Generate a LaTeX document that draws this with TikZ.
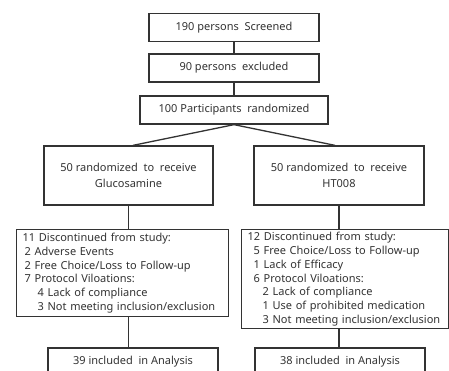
\documentclass[tikz,border=0pt]{standalone}
\usepackage{fontspec}
\setmainfont{Noto Sans}

\begin{document}
\begin{tikzpicture}[x=1pt, y=-1pt, line width=1.3pt, line join=miter,
  box/.style={draw=black!80, fill=white, inner sep=0pt, align=center,
    text=black!80, font=\fontsize{11}{12}\selectfont},
  listbox/.style={box, align=left, anchor=north west, inner xsep=6pt,
    font=\fontsize{11}{13.7}\selectfont}]
  \useasboundingbox (0,0) rectangle (449,370);
  \clip (0,0) rectangle (449,370);
  % screening and randomisation
  \node[box, minimum width=170, minimum height=28] (screened) at (234,27.5) {190 persons\ \ Screened};
  \node[box, minimum width=170, minimum height=28] (excluded) at (234,68) {90 persons\ \ excluded};
  \node[box, minimum width=188, minimum height=28] (randomized) at (234,110) {100 Participants\ \ randomized};
  % the two arms
  \node[box, minimum width=169, minimum height=59] (gluco) at (128.5,175.5)
    {50 randomized\ \ to\ \ receive\\[4pt]Glucosamine};
  \node[box, minimum width=170, minimum height=59] (htarm) at (339,175.5)
    {50 randomized\ \ to\ \ receive\\[4pt]HT008};
  % drop-outs
  \node[listbox, text width=200, minimum height=87] (dropgluco) at (16,229)
    {11 Discontinued from study:\\
     \hspace*{2pt}2 Adverse Events\\
     \hspace*{2pt}2 Free Choice/Loss to Follow-up\\
     \hspace*{2pt}7 Protocol Viloations:\\
     \hspace*{15pt}4 Lack of compliance\\
     \hspace*{15pt}3 Not meeting inclusion/exclusion};
  \node[listbox, text width=195, minimum height=99] (drophtarm) at (241,229)
    {12 Discontinued from study:\\
     \hspace*{6pt}5 Free Choice/Loss to Follow-up\\
     \hspace*{6pt}1 Lack of Efficacy\\
     \hspace*{6pt}6 Protocol Viloations:\\
     \hspace*{15pt}2 Lack of compliance\\
     \hspace*{15pt}1 Use of prohibited medication\\
     \hspace*{15pt}3 Not meeting inclusion/exclusion};
  % analysed (cut off at the bottom)
  \node[box, minimum width=170, minimum height=28] (analysedgluco) at (133,362) {39 included\ \ in Analysis};
  \node[box, minimum width=170, minimum height=28] (analysedhtarm) at (340,362) {38 included\ \ in Analysis};
  % connectors
  \draw[draw=black!80] (screened) -- (excluded);
  \draw[draw=black!80] (excluded) -- (randomized);
  \draw[draw=black!80] (randomized.south) -- ([xshift=4.5pt]gluco.north);
  \draw[draw=black!80] (randomized.south) -- ([xshift=-4pt]htarm.north);
  \draw[draw=black!80] (gluco.south) -- (gluco.south |- dropgluco.north);
  \draw[draw=black!80] (gluco.south |- dropgluco.south) -- (gluco.south |- analysedgluco.north);
  \draw[draw=black!80] (htarm.south) -- (htarm.south |- drophtarm.north);
  \draw[draw=black!80] (htarm.south |- drophtarm.south) -- (htarm.south |- analysedhtarm.north);
\end{tikzpicture}
\end{document}
